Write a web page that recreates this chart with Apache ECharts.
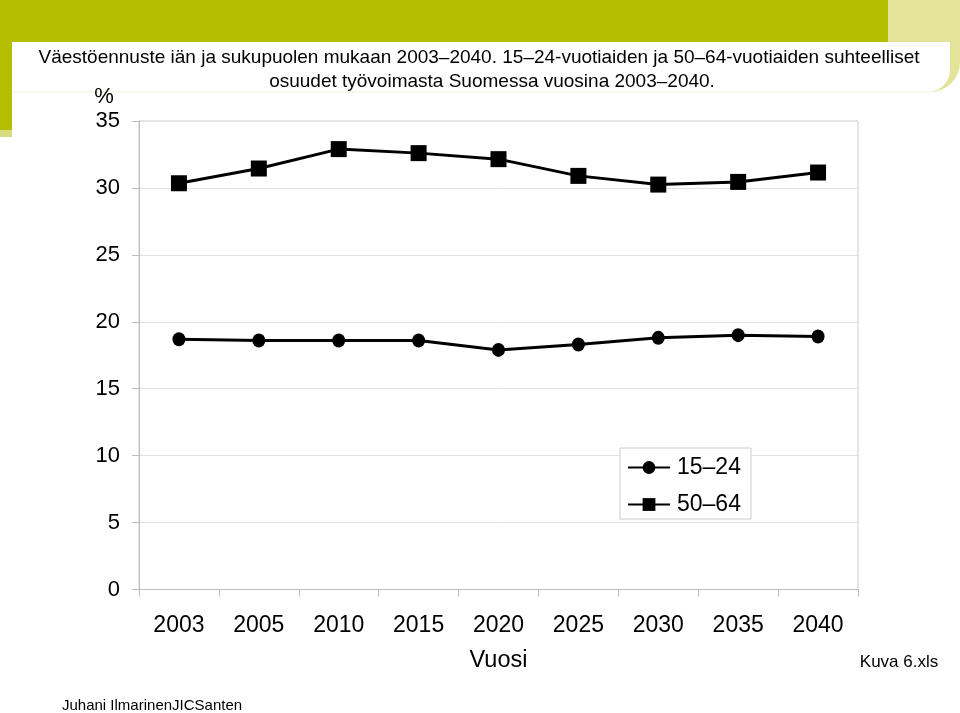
<!DOCTYPE html>
<html><head><meta charset="utf-8">
<script src="https://cdn.jsdelivr.net/npm/echarts@6/dist/echarts.min.js"></script>
<style>html,body{margin:0;padding:0;background:#fff}#c{width:960px;height:713px}</style>
</head><body><div id="c"></div>
<script>
const categories = ['2003','2005','2010','2015','2020','2025','2030','2035','2040'];
const age15_24 = [18.7, 18.6, 18.6, 18.6, 17.9, 18.3, 18.8, 19.0, 18.9];
const age50_64 = [30.35, 31.45, 32.9, 32.6, 32.15, 30.9, 30.25, 30.45, 31.15];
const yTicks = [0, 5, 10, 15, 20, 25, 30, 35];
const seriesNames = ['15–24', '50–64'];
const titleLines = ['Väestöennuste iän ja sukupuolen mukaan 2003–2040. 15–24-vuotiaiden ja 50–64-vuotiaiden suhteelliset', 'osuudet työvoimasta Suomessa vuosina 2003–2040.'];

const chart = echarts.init(document.getElementById('c'), null, {renderer: 'canvas'});
const F = '"Liberation Sans", Arial, sans-serif';
chart.setOption({
  animation: false,
  backgroundColor: '#fff',
  graphic: [
    {type: 'rect', z: -10, shape: {x: 888, y: 0, width: 72, height: 92, r: [0, 0, 30, 0]}, style: {fill: '#e3e39a'}},
    {type: 'rect', z: -9, shape: {x: 0, y: 0, width: 888, height: 42}, style: {fill: '#b5bd00'}},
    {type: 'rect', z: -9, shape: {x: 0, y: 0, width: 12, height: 137}, style: {fill: '#b5bd00'}},
    {type: 'rect', z: -9, shape: {x: 0, y: 130, width: 12, height: 7}, style: {fill: '#d8dc80'}},
    {type: 'rect', z: -8, shape: {x: 12, y: 42, width: 938, height: 50, r: [0, 0, 22, 0]}, style: {fill: '#fff'}},
    {type: 'line', z: -8, shape: {x1: 12, y1: 92, x2: 930, y2: 92}, style: {stroke: '#f0f0e6', lineWidth: 1}},
    {type: 'text', style: {x: 479, y: 58, text: titleLines[0], font: '19px ' + F, fill: '#000', align: 'center', verticalAlign: 'middle'}},
    {type: 'text', style: {x: 492, y: 82, text: titleLines[1], font: '19px ' + F, fill: '#000', align: 'center', verticalAlign: 'middle'}},
    {type: 'text', style: {x: 104, y: 97, text: '%', font: '22px ' + F, fill: '#000', align: 'center', verticalAlign: 'middle'}},
    {type: 'text', style: {x: 899, y: 662, text: 'Kuva 6.xls', font: '17px ' + F, fill: '#000', align: 'center', verticalAlign: 'middle'}},
    {type: 'text', style: {x: 62, y: 706, text: 'Juhani IlmarinenJICSanten', font: '15px ' + F, fill: '#000', align: 'left', verticalAlign: 'middle'}},
    {type: 'rect', z: 5, shape: {x: 620, y: 448, width: 131, height: 71}, style: {fill: '#fff', stroke: '#cccccc', lineWidth: 1}}
  ],
  grid: {left: 139, right: 102, top: 121, bottom: 123.5, show: true, borderColor: '#cccccc', borderWidth: 1, containLabel: false},
  legend: {
    left: 622, top: 451, orient: 'vertical', itemGap: 14, itemWidth: 42, itemHeight: 16, z: 10,
    textStyle: {fontSize: 23, fontFamily: F, color: '#000', padding: [0, 0, 0, 2]},
    data: seriesNames
  },
  xAxis: {
    type: 'category', data: categories, boundaryGap: true,
    axisLine: {lineStyle: {color: '#bdbdbd', width: 1}},
    axisTick: {show: true, length: 7, lineStyle: {color: '#bdbdbd'}},
    axisLabel: {fontSize: 23, fontFamily: F, color: '#000', margin: 25},
    name: 'Vuosi', nameLocation: 'middle', nameGap: 59,
    nameTextStyle: {fontSize: 23.5, fontFamily: F, color: '#000'}
  },
  yAxis: {
    type: 'value', min: 0, max: 35, interval: 5,
    axisLine: {show: true, lineStyle: {color: '#bdbdbd'}},
    axisTick: {show: true, length: 7, lineStyle: {color: '#bdbdbd'}},
    splitLine: {lineStyle: {color: '#e2e2e2'}},
    axisLabel: {fontSize: 22, fontFamily: F, color: '#000', margin: 19,
      formatter: v => yTicks.includes(v) ? String(v) : ''}
  },
  series: [
    {name: seriesNames[0], type: 'line', data: age15_24, symbol: 'circle', symbolSize: [13, 14],
      lineStyle: {color: '#000', width: 3}, itemStyle: {color: '#000'}, z: 3},
    {name: seriesNames[1], type: 'line', data: age50_64, symbol: 'rect', symbolSize: 16,
      lineStyle: {color: '#000', width: 3}, itemStyle: {color: '#000'}, z: 3}
  ]
});
</script></body></html>
